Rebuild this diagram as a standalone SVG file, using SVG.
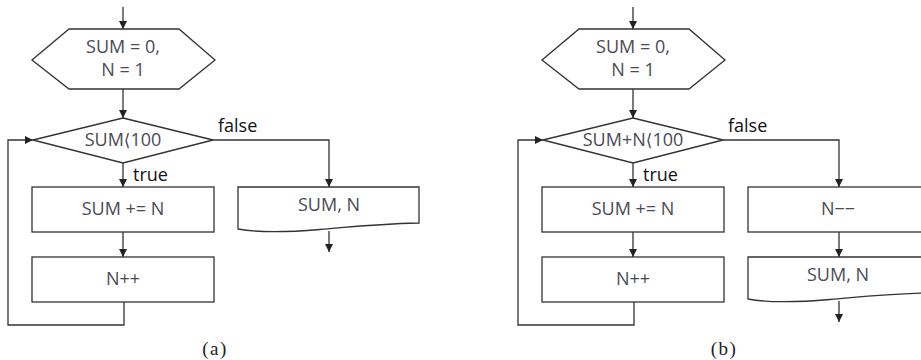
<svg xmlns="http://www.w3.org/2000/svg" width="921" height="360" viewBox="0 0 921 360">
<style>
.shape{fill:#fff;stroke:#333;stroke-width:1.3}
.ln{fill:none;stroke:#333;stroke-width:1.3}
.t{font-family:"Open Sans","Liberation Sans",sans-serif;font-size:18px;fill:#4a4a55;text-anchor:middle}
.br{font-family:"DejaVu Sans",sans-serif;font-size:17px}
.lbl{font-family:"Open Sans","Liberation Sans",sans-serif;font-size:18px;fill:#111}
.cap{font-family:"Liberation Serif",serif;font-size:19px;fill:#222;text-anchor:middle;letter-spacing:1.5px}
</style>
<defs>
<marker id="ah" viewBox="0 0 8 8" refX="8" refY="4" markerWidth="8" markerHeight="8" markerUnits="userSpaceOnUse" orient="auto">
<path d="M0,0 L8,4 L0,8 z" fill="#222"/>
</marker>
</defs>

<!-- Panel (a) -->
<g id="a-init">
<polygon class="shape" points="69,29 179,29 215,60 179,89 69,89 32,60"/>
<text class="t" x="123" y="53">SUM = 0,</text>
<text class="t" x="123" y="76">N = 1</text>
</g>
<g id="a-cond">
<polygon class="shape" points="123,118 213,140 123,163 33,140"/>
<text class="t" x="123" y="146">SUM<tspan class="br">⟨</tspan>100</text>
</g>
<g id="a-add">
<rect class="shape" x="32" y="187" width="182" height="45"/>
<text class="t" x="123" y="215">SUM += N</text>
</g>
<g id="a-inc">
<rect class="shape" x="32" y="257" width="182" height="45"/>
<text class="t" x="123" y="285">N++</text>
</g>
<g id="a-out">
<path class="shape" d="M238,187 H419 V223 C375,224 350,227 320,229.5 C290,232 262,233.5 238,229 Z"/>
<text class="t" x="329" y="211">SUM, N</text>
</g>
<g id="a-connectors">
<line class="ln" x1="123" y1="7" x2="123" y2="29" marker-end="url(#ah)"/>
<line class="ln" x1="123" y1="89" x2="123" y2="118" marker-end="url(#ah)"/>
<line class="ln" x1="123" y1="163" x2="123" y2="187" marker-end="url(#ah)"/>
<line class="ln" x1="123" y1="232" x2="123" y2="257" marker-end="url(#ah)"/>
<polyline class="ln" points="213,140 329,140 329,187" marker-end="url(#ah)"/>
<polyline class="ln" points="124,302 124,325 8,325 8,140 33,140" marker-end="url(#ah)"/>
<line class="ln" x1="329" y1="231" x2="329" y2="252" marker-end="url(#ah)"/>
<text class="lbl" x="218" y="132">false</text>
<text class="lbl" x="133" y="181">true</text>
</g>
<text class="cap" x="215" y="355">(a)</text>

<!-- Panel (b) -->
<g id="b-init">
<polygon class="shape" points="579,29 689,29 725,60 689,89 579,89 542,60"/>
<text class="t" x="633" y="53">SUM = 0,</text>
<text class="t" x="633" y="76">N = 1</text>
</g>
<g id="b-cond">
<polygon class="shape" points="633,118 723,140 633,163 543,140"/>
<text class="t" x="633" y="146">SUM+N<tspan class="br">⟨</tspan>100</text>
</g>
<g id="b-add">
<rect class="shape" x="542" y="187" width="182" height="45"/>
<text class="t" x="633" y="215">SUM += N</text>
</g>
<g id="b-inc">
<rect class="shape" x="542" y="257" width="182" height="45"/>
<text class="t" x="633" y="285">N++</text>
</g>
<g id="b-dec">
<rect class="shape" x="748" y="187" width="182" height="45"/>
<text class="t" x="838" y="215">N−−</text>
</g>
<g id="b-out">
<path class="shape" d="M748,257 H929 V293 C885,294 860,297 830,299.5 C800,302 772,303.5 748,299 Z"/>
<text class="t" x="838" y="281">SUM, N</text>
</g>
<g id="b-connectors">
<line class="ln" x1="633" y1="7" x2="633" y2="29" marker-end="url(#ah)"/>
<line class="ln" x1="633" y1="89" x2="633" y2="118" marker-end="url(#ah)"/>
<line class="ln" x1="633" y1="163" x2="633" y2="187" marker-end="url(#ah)"/>
<line class="ln" x1="633" y1="232" x2="633" y2="257" marker-end="url(#ah)"/>
<polyline class="ln" points="723,140 839,140 839,187" marker-end="url(#ah)"/>
<line class="ln" x1="839" y1="232" x2="839" y2="257" marker-end="url(#ah)"/>
<polyline class="ln" points="634,302 634,325 518,325 518,140 543,140" marker-end="url(#ah)"/>
<line class="ln" x1="839" y1="301" x2="839" y2="322" marker-end="url(#ah)"/>
<text class="lbl" x="728" y="132">false</text>
<text class="lbl" x="643" y="181">true</text>
</g>
<text class="cap" x="724" y="355">(b)</text>
</svg>
